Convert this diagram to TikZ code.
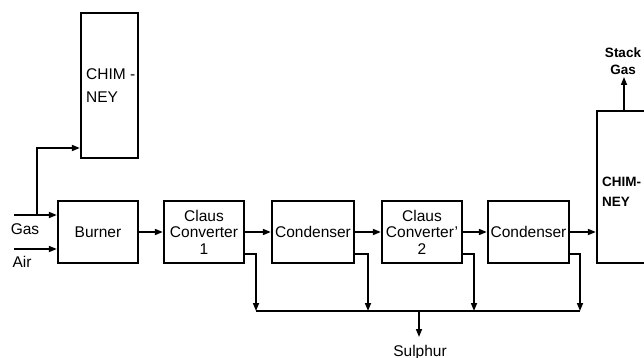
\documentclass[tikz,border=0pt]{standalone}
\usepackage{fontspec}
\setmainfont{Liberation Sans}
\usetikzlibrary{arrows.meta,calc}
\begin{document}
\begin{tikzpicture}[x=1pt,y=-1pt,
  box/.style={draw,line width=2.3pt,minimum width=80pt,minimum height=62pt,inner sep=0pt,align=center,font=\fontsize{15.5}{16.5}\selectfont},
  lbl/.style={inner sep=0pt,align=left,font=\fontsize{15.5}{16.5}\selectfont},
  conn/.style={line width=1.6pt,-{Triangle[length=8pt,width=6pt]}},
  plain/.style={line width=1.6pt}]
\useasboundingbox (0,0) rectangle (644,358);
\clip (0,0) rectangle (644,358);
% boxes
\node[box,minimum width=57pt,minimum height=145pt] (ch1) at (109.5,85.5) {};
\node[lbl,anchor=west] (ch1t) at (86,85.5) {CHIM -\\[6pt]NEY};
\node[box] (burner) at (98,232) {Burner};
\node[box] (claus1) at (204,232) {Claus\\Converter\\1};
\node[box,minimum width=82pt] (cond1) at (313,232) {Condenser};
\node[box] (claus2) at (422,232) {Claus\\Converter’\\2};
\node[box,minimum width=81pt] (cond2) at (528.5,232) {Condenser};
\node[box,minimum width=90pt,minimum height=152pt] (ch2) at (642,187) {};
\node[lbl,anchor=west,font=\fontsize{13.5}{16.5}\selectfont\bfseries] (ch2t) at (602,192) {CHIM-\\[4pt]NEY};
% inputs
\coordinate (gasin) at (14,215);
\coordinate (airin) at (14,249);
\coordinate (tap) at (37,215);
\draw[conn] (gasin) -- (gasin -| burner.west);
\draw[conn] (airin) -- (airin -| burner.west);
\draw[conn] (tap) -- (37,148) -- (ch1.west |- 0,148);
\node[lbl] (gas) at (25,229) {Gas};
\node[lbl] (air) at (22,262) {Air};
% main line
\draw[conn] (burner) -- (claus1);
\draw[conn] (claus1) -- (cond1);
\draw[conn] (cond1) -- (claus2);
\draw[conn] (claus2) -- (cond2);
\draw[conn] (cond2.east) -- (cond2.east -| ch2.west);
% stack gas
\draw[conn] (624,111) -- (624,77);
\node[lbl,align=center] (stack) at (623,61) {\bfseries\fontsize{13.5}{17}\selectfont Stack\\\bfseries\fontsize{13.5}{17}\selectfont Gas};
% sulphur bus
\coordinate (b1) at (256,311);
\coordinate (b2) at (368,311);
\coordinate (b3) at (474,311);
\coordinate (b4) at (580,311);
\draw[conn] ($(claus1.south east)+(0,-10)$) -| (b1);
\draw[conn] ($(cond1.south east)+(0,-10)$) -| (b2);
\draw[conn] ($(claus2.south east)+(0,-10)$) -| (b3);
\draw[conn] ($(cond2.south east)+(0,-10)$) -| (b4);
\draw[plain] (b1) -- (b4);
\coordinate (sout) at (419,311);
\coordinate (send) at (419,337);
\draw[conn] (sout) -- (send);
\node[lbl] (sulphur) at (420,352) {Sulphur};
\end{tikzpicture}
\end{document}
